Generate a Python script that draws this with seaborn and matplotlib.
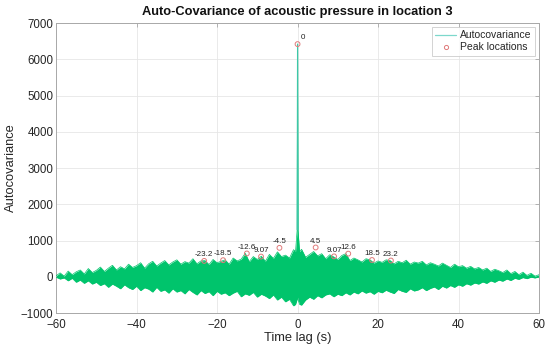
import numpy as np
import matplotlib
matplotlib.use("Agg")
import matplotlib.pyplot as plt
from matplotlib.lines import Line2D
import seaborn as sns

# lag grid (s): integer seconds on both sides, finer samples round the zero-lag spike
lags_neg = list(range(-60, 0))
lags_mid = [-0.5, -0.1, 0, 0.1, 0.5]
lags_pos = list(range(1, 61))

# upper / lower envelope of the autocovariance
upper_neg = [30, 110, 20, 160, 60, 140, 190, 80, 230, 120,
             180, 270, 150, 240, 320, 190, 280, 220, 350, 260,
             310, 390, 240, 360, 430, 300, 380, 450, 330, 410,
             470, 350, 420, 380, 500, 360, 440, 450, 340, 480,
             390, 430, 470, 350, 520, 440, 490, 650, 420, 560,
             480, 570, 430, 620, 510, 690, 560, 600, 520, 750]
lower_neg = [-10, -60, -30, -110, -40, -150, -90, -180, -110, -200,
             -150, -240, -190, -290, -200, -260, -330, -220, -300, -350,
             -260, -380, -300, -340, -420, -290, -400, -360, -450, -330,
             -420, -380, -470, -350, -430, -500, -380, -460, -410, -520,
             -400, -480, -440, -520, -450, -400, -550, -470, -510, -430,
             -560, -480, -530, -600, -500, -640, -560, -690, -620, -800]
upper_mid = [700, 1300, 6420, 1300, 700]
lower_mid = [-760, -620, -560, -620, -760]
upper_pos = [760, 540, 620, 700, 580, 640, 500, 610, 550, 480,
             590, 640, 450, 520, 470, 410, 500, 470, 380, 440,
             400, 470, 450, 360, 430, 390, 460, 350, 410, 380,
             430, 330, 390, 350, 300, 380, 320, 260, 350, 280,
             310, 240, 290, 220, 260, 190, 240, 150, 210, 170,
             120, 190, 90, 150, 60, 130, 40, 100, 20, 60]
lower_pos = [-780, -640, -560, -620, -520, -580, -500, -470, -550, -480,
             -520, -440, -500, -420, -470, -390, -450, -410, -480, -400,
             -440, -370, -420, -460, -350, -400, -430, -330, -390, -360,
             -300, -380, -320, -280, -350, -260, -310, -240, -290, -220,
             -260, -190, -230, -170, -200, -140, -180, -110, -150, -90,
             -120, -60, -100, -40, -70, -20, -50, -10, -30, 0]

# detected peaks
peak_lags = [-23.2, -18.5, -12.6, -9.07, -4.5, 0, 4.5, 9.07, 12.6, 18.5, 23.2]
peak_vals = [440, 460, 645, 560, 800, 6420, 810, 565, 640, 465, 450]
peak_text = ["-23.2", "-18.5", "-12.6", "9.07", "-4.5", "0",
             "4.5", "9.07", "12.6", "18.5", "23.2"]

lags = np.array(lags_neg + lags_mid + lags_pos, dtype=float)
upper = np.array(upper_neg + upper_mid + upper_pos, dtype=float)
lower = np.array(lower_neg + lower_mid + lower_pos, dtype=float)

sns.set_style("whitegrid")
plt.rcParams["font.family"] = ["Liberation Sans", "DejaVu Sans"]

fig = plt.figure(figsize=(5.5, 3.55), dpi=100)
ax = fig.add_axes([0.102, 0.118, 0.878, 0.817])

green = "#00c46c"
teal = "#3cc8a8"
ax.fill_between(lags, lower, upper, color=green, lw=0, zorder=2)
sns.lineplot(x=lags, y=upper, color=green, lw=0.5, ax=ax, zorder=3)
sns.lineplot(x=lags, y=lower, color=green, lw=0.5, ax=ax, zorder=3)
# thin zero-lag spike
sns.lineplot(x=lags_mid[1:4], y=upper_mid[1:4], color=teal, lw=0.8, ax=ax, zorder=4)

sns.scatterplot(x=peak_lags, y=peak_vals, marker="o", s=12, facecolor="none",
                edgecolor="#e07a7a", linewidth=0.7, ax=ax, zorder=5)
for lx, ly, t in zip(peak_lags, peak_vals, peak_text):
    dx = 4 if t == "0" else 0
    ax.annotate(t, (lx, ly), xytext=(dx, 2), textcoords="offset points",
                ha="center", va="bottom", fontsize=5.8, color="#222222", zorder=6)

ax.set_xlim(-60, 60)
ax.set_ylim(-1000, 7000)
ax.set_xticks([-60, -40, -20, 0, 20, 40, 60])
ax.set_yticks(range(-1000, 7001, 1000))
ax.grid(True, color="#e6e6e6", lw=0.6)
ax.set_axisbelow(True)
for s in ax.spines.values():
    s.set_color("#a8a8a8")
    s.set_linewidth(0.7)
ax.tick_params(direction="in", length=3, width=0.6, color="#a8a8a8",
               labelsize=8.3, labelcolor="#262626", top=True, right=True)
ax.tick_params(axis="x", pad=4)
ax.tick_params(axis="y", pad=2)

ax.set_title("Auto-Covariance of acoustic pressure in location 3",
             fontsize=9.3, fontweight="bold", color="#111111", pad=6)
ax.set_xlabel("Time lag (s)", fontsize=9.3, color="#262626", labelpad=1)
ax.set_ylabel("Autocovariance", fontsize=9.3, color="#262626", labelpad=3)

handles = [Line2D([], [], color="#7dd8cc", lw=0.9),
           Line2D([], [], color="#e07a7a", marker="o", ms=3, mfc="none",
                  mew=0.7, lw=0)]
leg = ax.legend(handles, ["Autocovariance", "Peak locations"], loc="upper right",
                fontsize=7.5, frameon=True, fancybox=False, borderpad=0.3,
                handlelength=2.0, handletextpad=0.4, labelspacing=0.2,
                borderaxespad=0.4)
leg.get_frame().set_edgecolor("#c0c0c0")
leg.get_frame().set_linewidth(0.6)

fig.savefig("out.png", dpi=100)
